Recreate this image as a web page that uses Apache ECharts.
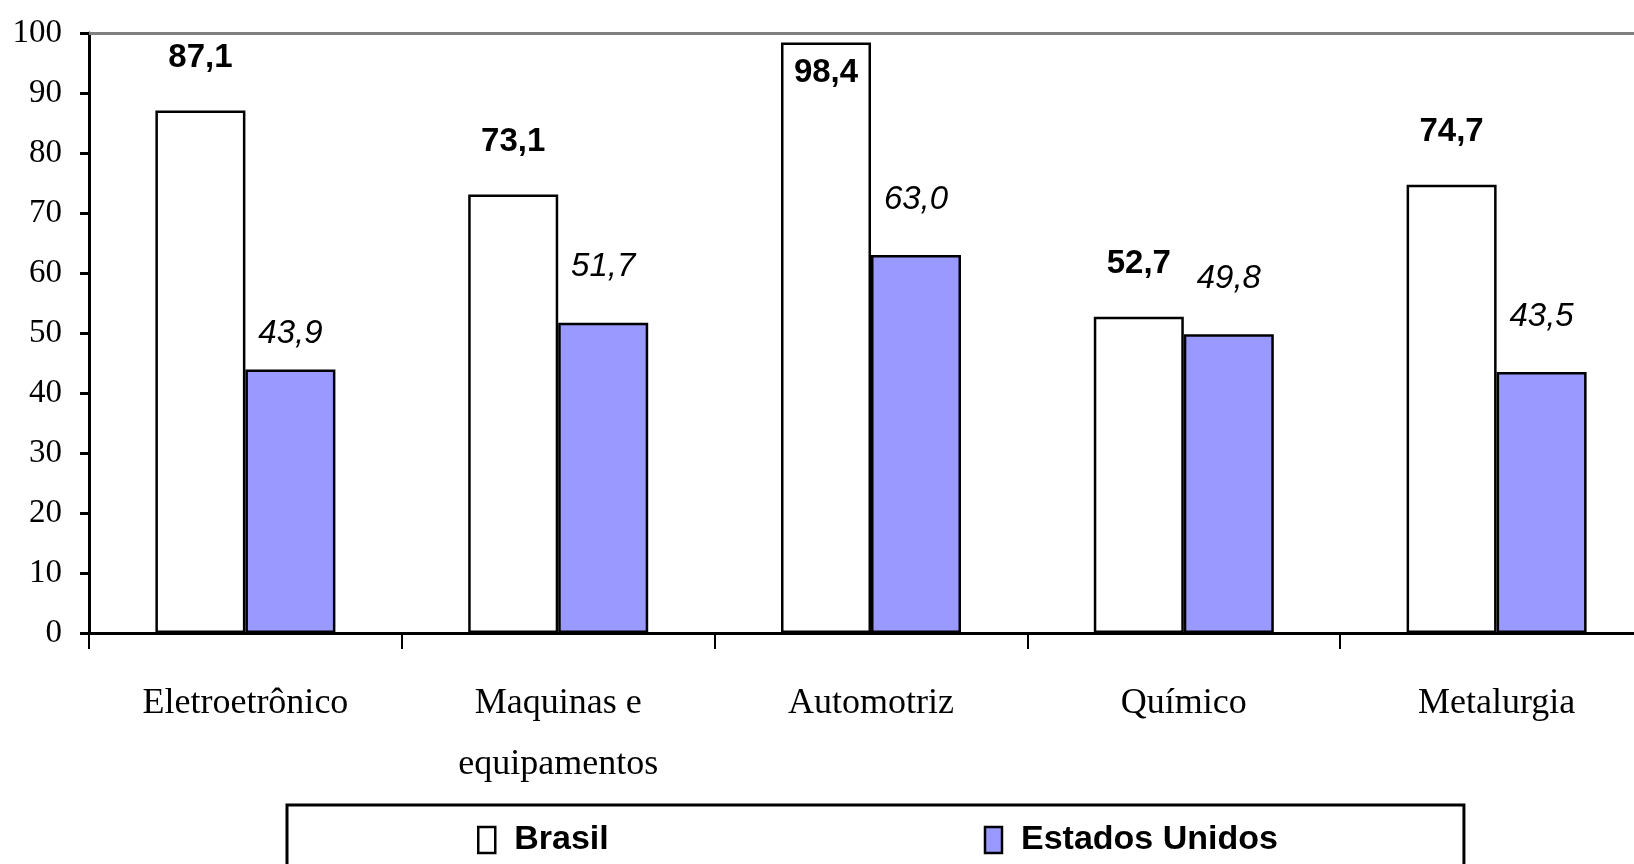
<!DOCTYPE html>
<html>
<head>
<meta charset="utf-8">
<title>Brasil x Estados Unidos</title>
<script src="https://cdn.jsdelivr.net/npm/echarts@6/dist/echarts.min.js"></script>
<style>
  html, body { margin: 0; padding: 0; background: #fff; }
  #chart { width: 1634px; height: 864px; }
</style>
</head>
<body>
<div id="chart"></div>
<script>
// data
const categories = ['Eletroetrônico', 'Maquinas e\nequipamentos', 'Automotriz', 'Químico', 'Metalurgia'];
const brasil = [87.1, 73.1, 98.4, 52.7, 74.7];
const estadosUnidos = [43.9, 51.7, 63.0, 49.8, 43.5];
const yTicks = [0, 10, 20, 30, 40, 50, 60, 70, 80, 90, 100];

const fmt = (v) => v.toFixed(1).replace('.', ',');

const chart = echarts.init(document.getElementById('chart'), null, { renderer: 'canvas' });

// Brasil labels sit above the bar, except the one that would leave the plot
const brasilData = brasil.map((v) => {
  if (v > 95) {
    return { value: v, label: { position: 'insideTop', distance: 14 } };
  }
  return v;
});
// the first US label was nudged closer to its bar in the original
const usData = estadosUnidos.map((v, i) => {
  if (i === 0) return { value: v, label: { distance: 19 } };
  return v;
});

const option = {
  backgroundColor: '#fff',
  animation: false,
  // plot runs past the right edge of the picture, as in the original
  grid: { left: 89, top: 33, bottom: 231, width: 1564, outerBoundsMode: 'none' },
  legend: {
    left: 287,
    top: 805,
    padding: [18, 186, 40, 190],
    itemGap: 375,
    itemWidth: 17,
    itemHeight: 26,
    icon: 'rect',
    itemStyle: { borderColor: '#000', borderWidth: 2.5 },
    borderColor: '#000',
    borderWidth: 3,
    textStyle: {
      fontFamily: 'Liberation Sans, Arial, sans-serif',
      fontWeight: 'bold',
      fontSize: 34,
      color: '#000',
      padding: [0, 0, 0, 14]
    },
    data: ['Brasil', 'Estados Unidos']
  },
  xAxis: [
    {
      type: 'category',
      data: categories,
      axisLine: { lineStyle: { color: '#000', width: 3 } },
      axisTick: { show: true, length: 16, lineStyle: { color: '#000', width: 2 } },
      axisLabel: {
        margin: 40,
        fontFamily: 'Liberation Serif, Times New Roman, serif',
        fontSize: 36,
        lineHeight: 61,
        color: '#000'
      }
    },
    {
      type: 'category',
      position: 'top',
      data: categories,
      axisLine: { lineStyle: { color: '#808080', width: 3 } },
      axisTick: { show: false },
      axisLabel: { show: false }
    }
  ],
  yAxis: {
    type: 'value',
    min: yTicks[0],
    max: yTicks[yTicks.length - 1],
    interval: 10,
    splitLine: { show: false },
    axisLine: { show: true, lineStyle: { color: '#000', width: 3 } },
    axisTick: { show: true, length: 9, lineStyle: { color: '#000', width: 3 } },
    axisLabel: {
      margin: 27,
      fontFamily: 'Liberation Serif, Times New Roman, serif',
      fontSize: 33,
      color: '#000'
    }
  },
  series: [
    {
      name: 'Brasil',
      type: 'bar',
      barWidth: 90,
      barGap: '0%',
      data: brasilData,
      itemStyle: { color: '#fff', borderColor: '#000', borderWidth: 2.5 },
      label: {
        show: true,
        position: 'top',
        distance: 36,
        fontFamily: 'Liberation Sans, Arial, sans-serif',
        fontWeight: 'bold',
        fontSize: 33,
        color: '#000',
        formatter: (p) => fmt(p.value)
      }
    },
    {
      name: 'Estados Unidos',
      type: 'bar',
      barWidth: 90,
      barGap: '0%',
      data: usData,
      itemStyle: { color: '#9999ff', borderColor: '#000', borderWidth: 2.5 },
      label: {
        show: true,
        position: 'top',
        distance: 39,
        fontFamily: 'Liberation Sans, Arial, sans-serif',
        fontStyle: 'italic',
        fontSize: 33,
        color: '#000',
        formatter: (p) => fmt(p.value)
      }
    }
  ]
};

chart.setOption(option);
</script>
</body>
</html>
